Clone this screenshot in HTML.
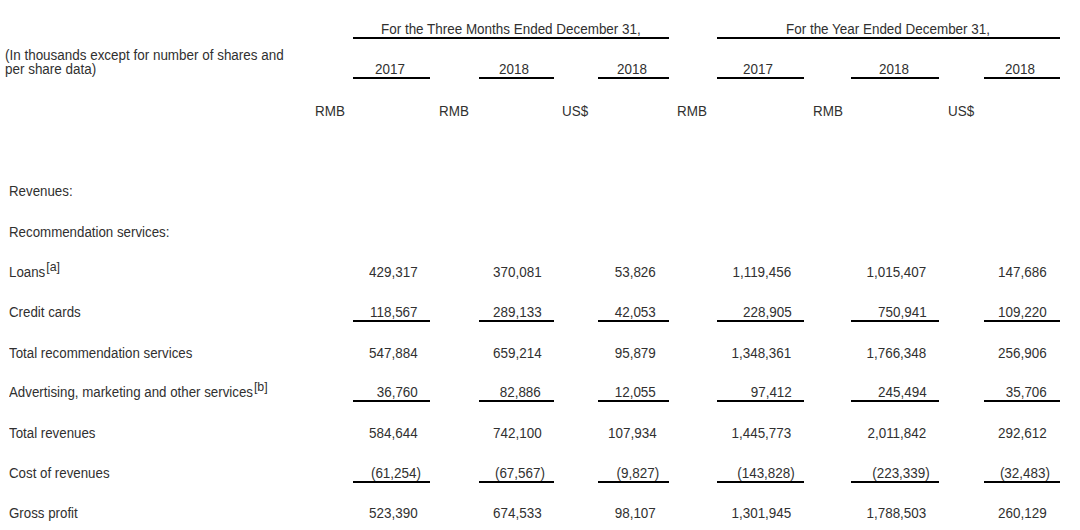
<!DOCTYPE html>
<html><head><meta charset="utf-8"><style>
html,body{margin:0;padding:0;background:#fff;}
body{width:1080px;height:530px;position:relative;overflow:hidden;font-family:"Liberation Sans",sans-serif;color:#303030;}
.t{position:absolute;font-size:14px;line-height:14px;white-space:nowrap;transform-origin:0 0;}
.r{text-align:right;transform-origin:100% 0 !important;}
.c{text-align:center;transform-origin:50% 0 !important;}
.hp{position:absolute;left:100%;}
sup{font-size:13px;margin-left:1px;vertical-align:0;position:relative;top:-6px;line-height:0;}
.ln{position:absolute;background:#000;}
</style></head><body>
<div class="t" style="left:381.00px;top:21.85px;transform:scaleX(0.96)">For the Three Months Ended December 31,</div>
<div class="t" style="left:786.00px;top:21.85px;transform:scaleX(0.96)">For the Year Ended December 31,</div>
<div class="ln" style="left:353.30px;width:315.70px;top:36.60px;height:2px"></div>
<div class="ln" style="left:717.00px;width:343.00px;top:36.60px;height:2px"></div>
<div class="t" style="left:5.00px;top:47.55px;transform:scaleX(0.96)">(In thousands except for number of shares and</div>
<div class="t" style="left:5.00px;top:61.95px;transform:scaleX(0.96)">per share data)</div>
<div class="t c" style="left:289.55px;width:200px;top:62.15px;transform:scaleX(0.96)">2017</div>
<div class="ln" style="left:353.30px;width:76.30px;top:76.80px;height:2px"></div>
<div class="t c" style="left:413.85px;width:200px;top:62.15px;transform:scaleX(0.96)">2018</div>
<div class="ln" style="left:478.50px;width:75.80px;top:76.80px;height:2px"></div>
<div class="t c" style="left:531.95px;width:200px;top:62.15px;transform:scaleX(0.96)">2018</div>
<div class="ln" style="left:598.30px;width:70.70px;top:76.80px;height:2px"></div>
<div class="t c" style="left:658.25px;width:200px;top:62.15px;transform:scaleX(0.96)">2017</div>
<div class="ln" style="left:716.90px;width:87.60px;top:76.80px;height:2px"></div>
<div class="t c" style="left:793.70px;width:200px;top:62.15px;transform:scaleX(0.96)">2018</div>
<div class="ln" style="left:851.30px;width:88.00px;top:76.80px;height:2px"></div>
<div class="t c" style="left:920.00px;width:200px;top:62.15px;transform:scaleX(0.96)">2018</div>
<div class="ln" style="left:984.40px;width:75.60px;top:76.80px;height:2px"></div>
<div class="t" style="left:315.00px;top:103.85px;transform:scaleX(0.96)">RMB</div>
<div class="t" style="left:438.50px;top:103.85px;transform:scaleX(0.96)">RMB</div>
<div class="t" style="left:562.00px;top:103.85px;transform:scaleX(0.96)">US$</div>
<div class="t" style="left:677.00px;top:103.85px;transform:scaleX(0.96)">RMB</div>
<div class="t" style="left:812.50px;top:103.85px;transform:scaleX(0.96)">RMB</div>
<div class="t" style="left:948.00px;top:103.85px;transform:scaleX(0.96)">US$</div>
<div class="t" style="left:8.50px;top:183.85px;transform:scaleX(0.95)">Revenues:</div>
<div class="t" style="left:8.50px;top:224.85px;transform:scaleX(0.95)">Recommendation services:</div>
<div class="t" style="left:8.50px;top:265.45px;transform:scaleX(0.95)">Loans<sup>[a]</sup></div>
<div class="t r" style="right:662.20px;top:265.45px;transform:scaleX(0.96)">429,317</div>
<div class="t r" style="right:538.70px;top:265.45px;transform:scaleX(0.96)">370,081</div>
<div class="t r" style="right:423.80px;top:265.45px;transform:scaleX(0.96)">53,826</div>
<div class="t r" style="right:288.40px;top:265.45px;transform:scaleX(0.96)">1,119,456</div>
<div class="t r" style="right:153.60px;top:265.45px;transform:scaleX(0.96)">1,015,407</div>
<div class="t r" style="right:33.00px;top:265.45px;transform:scaleX(0.96)">147,686</div>
<div class="t" style="left:8.50px;top:304.85px;transform:scaleX(0.95)">Credit cards</div>
<div class="t r" style="right:662.20px;top:304.85px;transform:scaleX(0.96)">118,567</div>
<div class="ln" style="left:353.30px;width:76.30px;top:319.80px;height:2px"></div>
<div class="t r" style="right:538.70px;top:304.85px;transform:scaleX(0.96)">289,133</div>
<div class="ln" style="left:478.50px;width:75.80px;top:319.80px;height:2px"></div>
<div class="t r" style="right:423.80px;top:304.85px;transform:scaleX(0.96)">42,053</div>
<div class="ln" style="left:598.30px;width:70.70px;top:319.80px;height:2px"></div>
<div class="t r" style="right:288.40px;top:304.85px;transform:scaleX(0.96)">228,905</div>
<div class="ln" style="left:716.90px;width:87.60px;top:319.80px;height:2px"></div>
<div class="t r" style="right:153.60px;top:304.85px;transform:scaleX(0.96)">750,941</div>
<div class="ln" style="left:851.30px;width:88.00px;top:319.80px;height:2px"></div>
<div class="t r" style="right:33.00px;top:304.85px;transform:scaleX(0.96)">109,220</div>
<div class="ln" style="left:984.40px;width:75.60px;top:319.80px;height:2px"></div>
<div class="t" style="left:8.50px;top:345.65px;transform:scaleX(0.95)">Total recommendation services</div>
<div class="t r" style="right:662.20px;top:345.65px;transform:scaleX(0.96)">547,884</div>
<div class="t r" style="right:538.70px;top:345.65px;transform:scaleX(0.96)">659,214</div>
<div class="t r" style="right:423.80px;top:345.65px;transform:scaleX(0.96)">95,879</div>
<div class="t r" style="right:288.40px;top:345.65px;transform:scaleX(0.96)">1,348,361</div>
<div class="t r" style="right:153.60px;top:345.65px;transform:scaleX(0.96)">1,766,348</div>
<div class="t r" style="right:33.00px;top:345.65px;transform:scaleX(0.96)">256,906</div>
<div class="t" style="left:8.50px;top:385.05px;transform:scaleX(0.95)">Advertising, marketing and other services<sup>[b]</sup></div>
<div class="t r" style="right:662.20px;top:385.05px;transform:scaleX(0.96)">36,760</div>
<div class="ln" style="left:353.30px;width:76.30px;top:400.00px;height:2px"></div>
<div class="t r" style="right:538.70px;top:385.05px;transform:scaleX(0.96)">82,886</div>
<div class="ln" style="left:478.50px;width:75.80px;top:400.00px;height:2px"></div>
<div class="t r" style="right:423.80px;top:385.05px;transform:scaleX(0.96)">12,055</div>
<div class="ln" style="left:598.30px;width:70.70px;top:400.00px;height:2px"></div>
<div class="t r" style="right:288.40px;top:385.05px;transform:scaleX(0.96)">97,412</div>
<div class="ln" style="left:716.90px;width:87.60px;top:400.00px;height:2px"></div>
<div class="t r" style="right:153.60px;top:385.05px;transform:scaleX(0.96)">245,494</div>
<div class="ln" style="left:851.30px;width:88.00px;top:400.00px;height:2px"></div>
<div class="t r" style="right:33.00px;top:385.05px;transform:scaleX(0.96)">35,706</div>
<div class="ln" style="left:984.40px;width:75.60px;top:400.00px;height:2px"></div>
<div class="t" style="left:8.50px;top:425.85px;transform:scaleX(0.95)">Total revenues</div>
<div class="t r" style="right:662.20px;top:425.85px;transform:scaleX(0.96)">584,644</div>
<div class="t r" style="right:538.70px;top:425.85px;transform:scaleX(0.96)">742,100</div>
<div class="t r" style="right:423.80px;top:425.85px;transform:scaleX(0.96)">107,934</div>
<div class="t r" style="right:288.40px;top:425.85px;transform:scaleX(0.96)">1,445,773</div>
<div class="t r" style="right:153.60px;top:425.85px;transform:scaleX(0.96)">2,011,842</div>
<div class="t r" style="right:33.00px;top:425.85px;transform:scaleX(0.96)">292,612</div>
<div class="t" style="left:8.50px;top:466.35px;transform:scaleX(0.95)">Cost of revenues</div>
<div class="t r" style="right:663.50px;top:466.35px;transform:scaleX(0.96)">(61,254<span class="hp">)</span></div>
<div class="ln" style="left:353.30px;width:76.30px;top:481.30px;height:2px"></div>
<div class="t r" style="right:540.00px;top:466.35px;transform:scaleX(0.96)">(67,567<span class="hp">)</span></div>
<div class="ln" style="left:478.50px;width:75.80px;top:481.30px;height:2px"></div>
<div class="t r" style="right:425.10px;top:466.35px;transform:scaleX(0.96)">(9,827<span class="hp">)</span></div>
<div class="ln" style="left:598.30px;width:70.70px;top:481.30px;height:2px"></div>
<div class="t r" style="right:289.70px;top:466.35px;transform:scaleX(0.96)">(143,828<span class="hp">)</span></div>
<div class="ln" style="left:716.90px;width:87.60px;top:481.30px;height:2px"></div>
<div class="t r" style="right:154.90px;top:466.35px;transform:scaleX(0.96)">(223,339<span class="hp">)</span></div>
<div class="ln" style="left:851.30px;width:88.00px;top:481.30px;height:2px"></div>
<div class="t r" style="right:34.30px;top:466.35px;transform:scaleX(0.96)">(32,483<span class="hp">)</span></div>
<div class="ln" style="left:984.40px;width:75.60px;top:481.30px;height:2px"></div>
<div class="t" style="left:8.50px;top:505.75px;transform:scaleX(0.95)">Gross profit</div>
<div class="t r" style="right:662.20px;top:505.75px;transform:scaleX(0.96)">523,390</div>
<div class="t r" style="right:538.70px;top:505.75px;transform:scaleX(0.96)">674,533</div>
<div class="t r" style="right:423.80px;top:505.75px;transform:scaleX(0.96)">98,107</div>
<div class="t r" style="right:288.40px;top:505.75px;transform:scaleX(0.96)">1,301,945</div>
<div class="t r" style="right:153.60px;top:505.75px;transform:scaleX(0.96)">1,788,503</div>
<div class="t r" style="right:33.00px;top:505.75px;transform:scaleX(0.96)">260,129</div>
</body></html>
